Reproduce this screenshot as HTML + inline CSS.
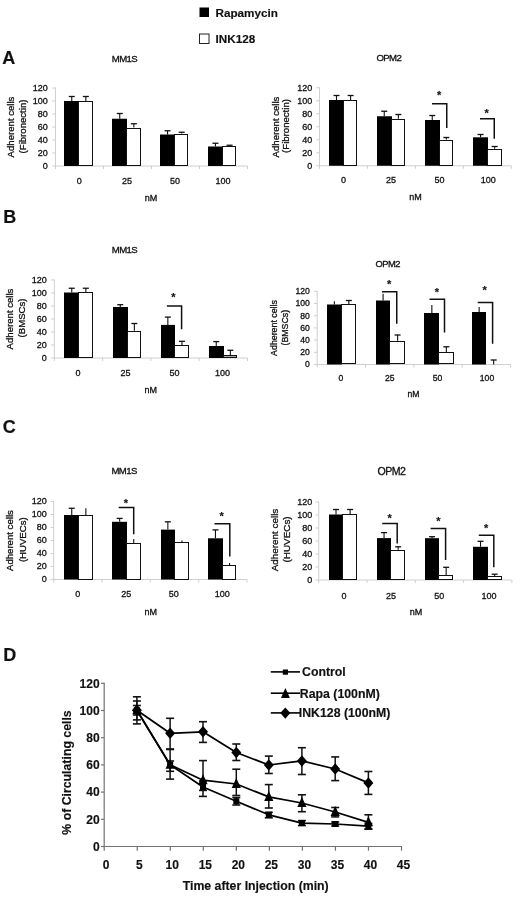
<!DOCTYPE html><html><head><meta charset="utf-8"><style>html,body{margin:0;padding:0;background:#fff;overflow:hidden}svg{display:block;filter:grayscale(1);font-family:"Liberation Sans",sans-serif}</style></head><body>
<svg width="520" height="902" viewBox="0 0 520 902">
<rect width="520" height="902" fill="#fff"/>
<rect x="199.5" y="7.5" width="9.5" height="9.5" fill="#000" stroke="none" stroke-width="0"/>
<text x="215.5" y="16.8" text-anchor="start" font-size="11.7" font-weight="bold" fill="#111"  stroke="#111" stroke-width="0.15">Rapamycin</text>
<rect x="199.5" y="34" width="9.5" height="9.5" fill="#fff" stroke="#222" stroke-width="1"/>
<text x="215.5" y="43.4" text-anchor="start" font-size="11.7" font-weight="bold" fill="#111"  stroke="#111" stroke-width="0.15">INK128</text>
<text x="2.3" y="63.9" text-anchor="start" font-size="18" font-weight="bold" fill="#111"  stroke="#111" stroke-width="0.15">A</text>
<text x="3.3" y="223" text-anchor="start" font-size="18" font-weight="bold" fill="#111"  stroke="#111" stroke-width="0.15">B</text>
<text x="2.8" y="433" text-anchor="start" font-size="18" font-weight="bold" fill="#111"  stroke="#111" stroke-width="0.15">C</text>
<text x="3.3" y="660.5" text-anchor="start" font-size="18" font-weight="bold" fill="#111"  stroke="#111" stroke-width="0.15">D</text>
<line x1="55.5" y1="87.5" x2="55.5" y2="166.5" stroke="#cfcfcf" stroke-width="1"/>
<line x1="52.3" y1="166.0" x2="55.5" y2="166.0" stroke="#cfcfcf" stroke-width="1"/>
<text x="47.8" y="168.97" text-anchor="end" font-size="9" font-weight="normal" fill="#111"  stroke="#111" stroke-width="0.3">0</text>
<line x1="52.3" y1="153.0" x2="55.5" y2="153.0" stroke="#cfcfcf" stroke-width="1"/>
<text x="47.8" y="155.97" text-anchor="end" font-size="9" font-weight="normal" fill="#111"  stroke="#111" stroke-width="0.3">20</text>
<line x1="52.3" y1="140.0" x2="55.5" y2="140.0" stroke="#cfcfcf" stroke-width="1"/>
<text x="47.8" y="142.97" text-anchor="end" font-size="9" font-weight="normal" fill="#111"  stroke="#111" stroke-width="0.3">40</text>
<line x1="52.3" y1="127.0" x2="55.5" y2="127.0" stroke="#cfcfcf" stroke-width="1"/>
<text x="47.8" y="129.97" text-anchor="end" font-size="9" font-weight="normal" fill="#111"  stroke="#111" stroke-width="0.3">60</text>
<line x1="52.3" y1="114.0" x2="55.5" y2="114.0" stroke="#cfcfcf" stroke-width="1"/>
<text x="47.8" y="116.97" text-anchor="end" font-size="9" font-weight="normal" fill="#111"  stroke="#111" stroke-width="0.3">80</text>
<line x1="52.3" y1="101.0" x2="55.5" y2="101.0" stroke="#cfcfcf" stroke-width="1"/>
<text x="47.8" y="103.97" text-anchor="end" font-size="9" font-weight="normal" fill="#111"  stroke="#111" stroke-width="0.3">100</text>
<line x1="52.3" y1="88.0" x2="55.5" y2="88.0" stroke="#cfcfcf" stroke-width="1"/>
<text x="47.8" y="90.97" text-anchor="end" font-size="9" font-weight="normal" fill="#111"  stroke="#111" stroke-width="0.3">120</text>
<line x1="55.5" y1="166" x2="247.5" y2="166" stroke="#cfcfcf" stroke-width="1"/>
<line x1="55.5" y1="166" x2="55.5" y2="169" stroke="#cfcfcf" stroke-width="1"/>
<line x1="103.5" y1="166" x2="103.5" y2="169" stroke="#cfcfcf" stroke-width="1"/>
<line x1="151.5" y1="166" x2="151.5" y2="169" stroke="#cfcfcf" stroke-width="1"/>
<line x1="199.5" y1="166" x2="199.5" y2="169" stroke="#cfcfcf" stroke-width="1"/>
<line x1="247.5" y1="166" x2="247.5" y2="169" stroke="#cfcfcf" stroke-width="1"/>
<rect x="64" y="101" width="15" height="65" fill="#000" stroke="none" stroke-width="0"/>
<rect x="78.5" y="101.5" width="14" height="64" fill="#fff" stroke="#111" stroke-width="1"/>
<line x1="71.75" y1="96.5" x2="71.75" y2="101" stroke="#111" stroke-width="1.1"/>
<line x1="68.75" y1="96.5" x2="74.75" y2="96.5" stroke="#111" stroke-width="1.3"/>
<line x1="85.85" y1="96.5" x2="85.85" y2="101" stroke="#111" stroke-width="1.1"/>
<line x1="82.85" y1="96.5" x2="88.85" y2="96.5" stroke="#111" stroke-width="1.3"/>
<rect x="112" y="118.75" width="15" height="47.25" fill="#000" stroke="none" stroke-width="0"/>
<rect x="126.5" y="128.5" width="14" height="37" fill="#fff" stroke="#111" stroke-width="1"/>
<line x1="119.75" y1="113.5" x2="119.75" y2="118.75" stroke="#111" stroke-width="1.1"/>
<line x1="116.75" y1="113.5" x2="122.75" y2="113.5" stroke="#111" stroke-width="1.3"/>
<line x1="133.85" y1="123.75" x2="133.85" y2="127.5" stroke="#111" stroke-width="1.1"/>
<line x1="130.85" y1="123.75" x2="136.85" y2="123.75" stroke="#111" stroke-width="1.3"/>
<rect x="160" y="134.5" width="15" height="31.5" fill="#000" stroke="none" stroke-width="0"/>
<rect x="174.5" y="134.5" width="13" height="31" fill="#fff" stroke="#111" stroke-width="1"/>
<line x1="167.55" y1="130.75" x2="167.55" y2="134.5" stroke="#111" stroke-width="1.1"/>
<line x1="164.55" y1="130.75" x2="170.55" y2="130.75" stroke="#111" stroke-width="1.3"/>
<line x1="181.65" y1="132.25" x2="181.65" y2="133.5" stroke="#111" stroke-width="1.1"/>
<line x1="178.65" y1="132.25" x2="184.65" y2="132.25" stroke="#111" stroke-width="1.3"/>
<rect x="208" y="146.5" width="15" height="19.5" fill="#000" stroke="none" stroke-width="0"/>
<rect x="222.5" y="146.5" width="13" height="19" fill="#fff" stroke="#111" stroke-width="1"/>
<line x1="215.45" y1="143.25" x2="215.45" y2="146.5" stroke="#111" stroke-width="1.1"/>
<line x1="212.45" y1="143.25" x2="218.45" y2="143.25" stroke="#111" stroke-width="1.3"/>
<line x1="229.54999999999998" y1="145.25" x2="229.54999999999998" y2="146.5" stroke="#111" stroke-width="1.1"/>
<line x1="226.54999999999998" y1="145.25" x2="232.54999999999998" y2="145.25" stroke="#111" stroke-width="1.3"/>
<text x="79.3" y="183.84" text-anchor="middle" font-size="9" font-weight="normal" fill="#111"  stroke="#111" stroke-width="0.3">0</text>
<text x="127" y="183.84" text-anchor="middle" font-size="9" font-weight="normal" fill="#111"  stroke="#111" stroke-width="0.3">25</text>
<text x="175" y="183.84" text-anchor="middle" font-size="9" font-weight="normal" fill="#111"  stroke="#111" stroke-width="0.3">50</text>
<text x="223" y="183.84" text-anchor="middle" font-size="9" font-weight="normal" fill="#111"  stroke="#111" stroke-width="0.3">100</text>
<text x="151" y="201.04000000000002" text-anchor="middle" font-size="9" font-weight="normal" fill="#111"  stroke="#111" stroke-width="0.3">nM</text>
<text x="124.5" y="61.6" text-anchor="middle" font-size="9.6" font-weight="normal" fill="#111" letter-spacing="-0.6" stroke="#111" stroke-width="0.3">MM1S</text>
<text transform="translate(14.3,127) rotate(-90)" text-anchor="middle" font-size="9.6" font-weight="normal" fill="#111"  stroke="#111" stroke-width="0.3">Adherent cells</text>
<text transform="translate(25.8,126.5) rotate(-90)" text-anchor="middle" font-size="9.6" font-weight="normal" fill="#111"  stroke="#111" stroke-width="0.3">(Fibronectin)</text>
<line x1="319.5" y1="87.25" x2="319.5" y2="166.25" stroke="#cfcfcf" stroke-width="1"/>
<line x1="316.3" y1="165.75" x2="319.5" y2="165.75" stroke="#cfcfcf" stroke-width="1"/>
<text x="312.3" y="168.72" text-anchor="end" font-size="9" font-weight="normal" fill="#111"  stroke="#111" stroke-width="0.3">0</text>
<line x1="316.3" y1="152.75" x2="319.5" y2="152.75" stroke="#cfcfcf" stroke-width="1"/>
<text x="312.3" y="155.72" text-anchor="end" font-size="9" font-weight="normal" fill="#111"  stroke="#111" stroke-width="0.3">20</text>
<line x1="316.3" y1="139.75" x2="319.5" y2="139.75" stroke="#cfcfcf" stroke-width="1"/>
<text x="312.3" y="142.72" text-anchor="end" font-size="9" font-weight="normal" fill="#111"  stroke="#111" stroke-width="0.3">40</text>
<line x1="316.3" y1="126.75" x2="319.5" y2="126.75" stroke="#cfcfcf" stroke-width="1"/>
<text x="312.3" y="129.72" text-anchor="end" font-size="9" font-weight="normal" fill="#111"  stroke="#111" stroke-width="0.3">60</text>
<line x1="316.3" y1="113.75" x2="319.5" y2="113.75" stroke="#cfcfcf" stroke-width="1"/>
<text x="312.3" y="116.72" text-anchor="end" font-size="9" font-weight="normal" fill="#111"  stroke="#111" stroke-width="0.3">80</text>
<line x1="316.3" y1="100.75" x2="319.5" y2="100.75" stroke="#cfcfcf" stroke-width="1"/>
<text x="312.3" y="103.72" text-anchor="end" font-size="9" font-weight="normal" fill="#111"  stroke="#111" stroke-width="0.3">100</text>
<line x1="316.3" y1="87.75" x2="319.5" y2="87.75" stroke="#cfcfcf" stroke-width="1"/>
<text x="312.3" y="90.72" text-anchor="end" font-size="9" font-weight="normal" fill="#111"  stroke="#111" stroke-width="0.3">120</text>
<line x1="319.5" y1="165.75" x2="511.3" y2="165.75" stroke="#cfcfcf" stroke-width="1"/>
<line x1="319.5" y1="165.75" x2="319.5" y2="168.75" stroke="#cfcfcf" stroke-width="1"/>
<line x1="367.45" y1="165.75" x2="367.45" y2="168.75" stroke="#cfcfcf" stroke-width="1"/>
<line x1="415.4" y1="165.75" x2="415.4" y2="168.75" stroke="#cfcfcf" stroke-width="1"/>
<line x1="463.35" y1="165.75" x2="463.35" y2="168.75" stroke="#cfcfcf" stroke-width="1"/>
<line x1="511.3" y1="165.75" x2="511.3" y2="168.75" stroke="#cfcfcf" stroke-width="1"/>
<rect x="329" y="100" width="15" height="65.75" fill="#000" stroke="none" stroke-width="0"/>
<rect x="343.5" y="100.5" width="13" height="65" fill="#fff" stroke="#111" stroke-width="1"/>
<line x1="336.5" y1="95.5" x2="336.5" y2="100" stroke="#111" stroke-width="1.1"/>
<line x1="333.5" y1="95.5" x2="339.5" y2="95.5" stroke="#111" stroke-width="1.3"/>
<line x1="350.6" y1="95.5" x2="350.6" y2="100" stroke="#111" stroke-width="1.1"/>
<line x1="347.6" y1="95.5" x2="353.6" y2="95.5" stroke="#111" stroke-width="1.3"/>
<rect x="377" y="116.25" width="15" height="49.5" fill="#000" stroke="none" stroke-width="0"/>
<rect x="391.5" y="119.5" width="13" height="46" fill="#fff" stroke="#111" stroke-width="1"/>
<line x1="384.25" y1="111.25" x2="384.25" y2="116.25" stroke="#111" stroke-width="1.1"/>
<line x1="381.25" y1="111.25" x2="387.25" y2="111.25" stroke="#111" stroke-width="1.3"/>
<line x1="398.35" y1="114.5" x2="398.35" y2="118.75" stroke="#111" stroke-width="1.1"/>
<line x1="395.35" y1="114.5" x2="401.35" y2="114.5" stroke="#111" stroke-width="1.3"/>
<rect x="425" y="120" width="15" height="45.75" fill="#000" stroke="none" stroke-width="0"/>
<rect x="439.5" y="140.5" width="13" height="25" fill="#fff" stroke="#111" stroke-width="1"/>
<line x1="432.25" y1="115.5" x2="432.25" y2="120" stroke="#111" stroke-width="1.1"/>
<line x1="429.25" y1="115.5" x2="435.25" y2="115.5" stroke="#111" stroke-width="1.3"/>
<line x1="446.35" y1="137.5" x2="446.35" y2="139.5" stroke="#111" stroke-width="1.1"/>
<line x1="443.35" y1="137.5" x2="449.35" y2="137.5" stroke="#111" stroke-width="1.3"/>
<polyline points="432,103.75 446.75,103.75 446.75,128" fill="none" stroke="#111" stroke-width="1.5"/>
<text x="439.25" y="99.25" text-anchor="middle" font-size="11" font-weight="bold" fill="#111"  stroke="#111" stroke-width="0.15">*</text>
<rect x="473" y="137.3" width="15" height="28.44999999999999" fill="#000" stroke="none" stroke-width="0"/>
<rect x="487.5" y="149.5" width="14" height="16" fill="#fff" stroke="#111" stroke-width="1"/>
<line x1="480.55" y1="134.5" x2="480.55" y2="137.3" stroke="#111" stroke-width="1.1"/>
<line x1="477.55" y1="134.5" x2="483.55" y2="134.5" stroke="#111" stroke-width="1.3"/>
<line x1="494.65000000000003" y1="146.5" x2="494.65000000000003" y2="148.7" stroke="#111" stroke-width="1.1"/>
<line x1="491.65000000000003" y1="146.5" x2="497.65000000000003" y2="146.5" stroke="#111" stroke-width="1.3"/>
<polyline points="480,118.75 494.25,118.75 494.25,138.75" fill="none" stroke="#111" stroke-width="1.5"/>
<text x="486.75" y="116.75" text-anchor="middle" font-size="11" font-weight="bold" fill="#111"  stroke="#111" stroke-width="0.15">*</text>
<text x="343.6" y="183.04000000000002" text-anchor="middle" font-size="9" font-weight="normal" fill="#111"  stroke="#111" stroke-width="0.3">0</text>
<text x="391" y="183.04000000000002" text-anchor="middle" font-size="9" font-weight="normal" fill="#111"  stroke="#111" stroke-width="0.3">25</text>
<text x="439.6" y="183.04000000000002" text-anchor="middle" font-size="9" font-weight="normal" fill="#111"  stroke="#111" stroke-width="0.3">50</text>
<text x="488.2" y="183.04000000000002" text-anchor="middle" font-size="9" font-weight="normal" fill="#111"  stroke="#111" stroke-width="0.3">100</text>
<text x="415.5" y="199.94" text-anchor="middle" font-size="9" font-weight="normal" fill="#111"  stroke="#111" stroke-width="0.3">nM</text>
<text x="388.8" y="61.0" text-anchor="middle" font-size="9.6" font-weight="normal" fill="#111" letter-spacing="-0.6" stroke="#111" stroke-width="0.3">OPM2</text>
<text transform="translate(278.6,127) rotate(-90)" text-anchor="middle" font-size="9.6" font-weight="normal" fill="#111"  stroke="#111" stroke-width="0.3">Adherent cells</text>
<text transform="translate(288.6,126) rotate(-90)" text-anchor="middle" font-size="9.6" font-weight="normal" fill="#111"  stroke="#111" stroke-width="0.3">(Fibronectin)</text>
<line x1="54.3" y1="279.5" x2="54.3" y2="358.5" stroke="#cfcfcf" stroke-width="1"/>
<line x1="51.099999999999994" y1="358.0" x2="54.3" y2="358.0" stroke="#cfcfcf" stroke-width="1"/>
<text x="46.8" y="360.97" text-anchor="end" font-size="9" font-weight="normal" fill="#111"  stroke="#111" stroke-width="0.3">0</text>
<line x1="51.099999999999994" y1="345.0" x2="54.3" y2="345.0" stroke="#cfcfcf" stroke-width="1"/>
<text x="46.8" y="347.97" text-anchor="end" font-size="9" font-weight="normal" fill="#111"  stroke="#111" stroke-width="0.3">20</text>
<line x1="51.099999999999994" y1="332.0" x2="54.3" y2="332.0" stroke="#cfcfcf" stroke-width="1"/>
<text x="46.8" y="334.97" text-anchor="end" font-size="9" font-weight="normal" fill="#111"  stroke="#111" stroke-width="0.3">40</text>
<line x1="51.099999999999994" y1="319.0" x2="54.3" y2="319.0" stroke="#cfcfcf" stroke-width="1"/>
<text x="46.8" y="321.97" text-anchor="end" font-size="9" font-weight="normal" fill="#111"  stroke="#111" stroke-width="0.3">60</text>
<line x1="51.099999999999994" y1="306.0" x2="54.3" y2="306.0" stroke="#cfcfcf" stroke-width="1"/>
<text x="46.8" y="308.97" text-anchor="end" font-size="9" font-weight="normal" fill="#111"  stroke="#111" stroke-width="0.3">80</text>
<line x1="51.099999999999994" y1="293.0" x2="54.3" y2="293.0" stroke="#cfcfcf" stroke-width="1"/>
<text x="46.8" y="295.97" text-anchor="end" font-size="9" font-weight="normal" fill="#111"  stroke="#111" stroke-width="0.3">100</text>
<line x1="51.099999999999994" y1="280.0" x2="54.3" y2="280.0" stroke="#cfcfcf" stroke-width="1"/>
<text x="46.8" y="282.97" text-anchor="end" font-size="9" font-weight="normal" fill="#111"  stroke="#111" stroke-width="0.3">120</text>
<line x1="54.3" y1="358" x2="247.5" y2="358" stroke="#cfcfcf" stroke-width="1"/>
<line x1="54.3" y1="358" x2="54.3" y2="361" stroke="#cfcfcf" stroke-width="1"/>
<line x1="102.6" y1="358" x2="102.6" y2="361" stroke="#cfcfcf" stroke-width="1"/>
<line x1="150.89999999999998" y1="358" x2="150.89999999999998" y2="361" stroke="#cfcfcf" stroke-width="1"/>
<line x1="199.2" y1="358" x2="199.2" y2="361" stroke="#cfcfcf" stroke-width="1"/>
<line x1="247.5" y1="358" x2="247.5" y2="361" stroke="#cfcfcf" stroke-width="1"/>
<rect x="64" y="292.5" width="15" height="65.5" fill="#000" stroke="none" stroke-width="0"/>
<rect x="78.5" y="292.5" width="14" height="65" fill="#fff" stroke="#111" stroke-width="1"/>
<line x1="71.75" y1="288.25" x2="71.75" y2="292.5" stroke="#111" stroke-width="1.1"/>
<line x1="68.75" y1="288.25" x2="74.75" y2="288.25" stroke="#111" stroke-width="1.3"/>
<line x1="85.85" y1="288.25" x2="85.85" y2="292.5" stroke="#111" stroke-width="1.1"/>
<line x1="82.85" y1="288.25" x2="88.85" y2="288.25" stroke="#111" stroke-width="1.3"/>
<rect x="113" y="307" width="15" height="51" fill="#000" stroke="none" stroke-width="0"/>
<rect x="127.5" y="331.5" width="13" height="26" fill="#fff" stroke="#111" stroke-width="1"/>
<line x1="120.25" y1="304.7" x2="120.25" y2="307" stroke="#111" stroke-width="1.1"/>
<line x1="117.25" y1="304.7" x2="123.25" y2="304.7" stroke="#111" stroke-width="1.3"/>
<line x1="134.35" y1="323.5" x2="134.35" y2="330.7" stroke="#111" stroke-width="1.1"/>
<line x1="131.35" y1="323.5" x2="137.35" y2="323.5" stroke="#111" stroke-width="1.3"/>
<rect x="161" y="324.9" width="14" height="33.10000000000002" fill="#000" stroke="none" stroke-width="0"/>
<rect x="174.5" y="345.5" width="14" height="12" fill="#fff" stroke="#111" stroke-width="1"/>
<line x1="167.85" y1="317.1" x2="167.85" y2="324.9" stroke="#111" stroke-width="1.1"/>
<line x1="164.85" y1="317.1" x2="170.85" y2="317.1" stroke="#111" stroke-width="1.3"/>
<line x1="181.95" y1="341.3" x2="181.95" y2="345.4" stroke="#111" stroke-width="1.1"/>
<line x1="178.95" y1="341.3" x2="184.95" y2="341.3" stroke="#111" stroke-width="1.3"/>
<polyline points="166.9,306.1 181.6,306.1 181.6,329.2" fill="none" stroke="#111" stroke-width="1.5"/>
<text x="173.5" y="301.0" text-anchor="middle" font-size="11" font-weight="bold" fill="#111"  stroke="#111" stroke-width="0.15">*</text>
<rect x="209" y="346" width="15" height="12" fill="#000" stroke="none" stroke-width="0"/>
<rect x="223.5" y="355.5" width="13" height="2" fill="#aaa" stroke="#111" stroke-width="1"/>
<line x1="216.25" y1="341.6" x2="216.25" y2="346" stroke="#111" stroke-width="1.1"/>
<line x1="213.25" y1="341.6" x2="219.25" y2="341.6" stroke="#111" stroke-width="1.3"/>
<line x1="230.35" y1="350.3" x2="230.35" y2="355.2" stroke="#111" stroke-width="1.1"/>
<line x1="227.35" y1="350.3" x2="233.35" y2="350.3" stroke="#111" stroke-width="1.3"/>
<text x="78" y="376.04" text-anchor="middle" font-size="9" font-weight="normal" fill="#111"  stroke="#111" stroke-width="0.3">0</text>
<text x="125.4" y="376.04" text-anchor="middle" font-size="9" font-weight="normal" fill="#111"  stroke="#111" stroke-width="0.3">25</text>
<text x="174.4" y="376.04" text-anchor="middle" font-size="9" font-weight="normal" fill="#111"  stroke="#111" stroke-width="0.3">50</text>
<text x="222.6" y="376.04" text-anchor="middle" font-size="9" font-weight="normal" fill="#111"  stroke="#111" stroke-width="0.3">100</text>
<text x="150.8" y="392.84000000000003" text-anchor="middle" font-size="9" font-weight="normal" fill="#111"  stroke="#111" stroke-width="0.3">nM</text>
<text x="124.5" y="252.5" text-anchor="middle" font-size="9.6" font-weight="normal" fill="#111" letter-spacing="-0.6" stroke="#111" stroke-width="0.3">MM1S</text>
<text transform="translate(13,319) rotate(-90)" text-anchor="middle" font-size="9.6" font-weight="normal" fill="#111"  stroke="#111" stroke-width="0.3">Adherent cells</text>
<text transform="translate(25.3,318) rotate(-90)" text-anchor="middle" font-size="9.6" font-weight="normal" fill="#111"  stroke="#111" stroke-width="0.3">(BMSCs)</text>
<line x1="317.2" y1="290.8" x2="317.2" y2="365.0" stroke="#cfcfcf" stroke-width="1"/>
<line x1="314.0" y1="364.5" x2="317.2" y2="364.5" stroke="#cfcfcf" stroke-width="1"/>
<text x="309.8" y="367.338" text-anchor="end" font-size="8.6" font-weight="normal" fill="#111"  stroke="#111" stroke-width="0.3">0</text>
<line x1="314.0" y1="352.3" x2="317.2" y2="352.3" stroke="#cfcfcf" stroke-width="1"/>
<text x="309.8" y="355.13800000000003" text-anchor="end" font-size="8.6" font-weight="normal" fill="#111"  stroke="#111" stroke-width="0.3">20</text>
<line x1="314.0" y1="340.1" x2="317.2" y2="340.1" stroke="#cfcfcf" stroke-width="1"/>
<text x="309.8" y="342.93800000000005" text-anchor="end" font-size="8.6" font-weight="normal" fill="#111"  stroke="#111" stroke-width="0.3">40</text>
<line x1="314.0" y1="327.9" x2="317.2" y2="327.9" stroke="#cfcfcf" stroke-width="1"/>
<text x="309.8" y="330.738" text-anchor="end" font-size="8.6" font-weight="normal" fill="#111"  stroke="#111" stroke-width="0.3">60</text>
<line x1="314.0" y1="315.7" x2="317.2" y2="315.7" stroke="#cfcfcf" stroke-width="1"/>
<text x="309.8" y="318.538" text-anchor="end" font-size="8.6" font-weight="normal" fill="#111"  stroke="#111" stroke-width="0.3">80</text>
<line x1="314.0" y1="303.5" x2="317.2" y2="303.5" stroke="#cfcfcf" stroke-width="1"/>
<text x="309.8" y="306.338" text-anchor="end" font-size="8.6" font-weight="normal" fill="#111"  stroke="#111" stroke-width="0.3">100</text>
<line x1="314.0" y1="291.3" x2="317.2" y2="291.3" stroke="#cfcfcf" stroke-width="1"/>
<text x="309.8" y="294.13800000000003" text-anchor="end" font-size="8.6" font-weight="normal" fill="#111"  stroke="#111" stroke-width="0.3">120</text>
<line x1="317.2" y1="364.5" x2="510.5" y2="364.5" stroke="#cfcfcf" stroke-width="1"/>
<line x1="317.2" y1="364.5" x2="317.2" y2="367.5" stroke="#cfcfcf" stroke-width="1"/>
<line x1="365.525" y1="364.5" x2="365.525" y2="367.5" stroke="#cfcfcf" stroke-width="1"/>
<line x1="413.85" y1="364.5" x2="413.85" y2="367.5" stroke="#cfcfcf" stroke-width="1"/>
<line x1="462.175" y1="364.5" x2="462.175" y2="367.5" stroke="#cfcfcf" stroke-width="1"/>
<line x1="510.5" y1="364.5" x2="510.5" y2="367.5" stroke="#cfcfcf" stroke-width="1"/>
<rect x="327" y="304.5" width="15" height="60.0" fill="#000" stroke="none" stroke-width="0"/>
<rect x="341.5" y="304.5" width="14" height="59" fill="#fff" stroke="#111" stroke-width="1"/>
<line x1="334.35" y1="301.25" x2="334.35" y2="304.5" stroke="#111" stroke-width="1.1"/>
<line x1="348.84999999999997" y1="300.5" x2="348.84999999999997" y2="304.5" stroke="#111" stroke-width="1.1"/>
<line x1="345.84999999999997" y1="300.5" x2="351.84999999999997" y2="300.5" stroke="#111" stroke-width="1.3"/>
<rect x="376" y="300.5" width="14" height="64.0" fill="#000" stroke="none" stroke-width="0"/>
<rect x="389.5" y="341.5" width="15" height="22" fill="#fff" stroke="#111" stroke-width="1"/>
<line x1="383.1" y1="293.75" x2="383.1" y2="300.5" stroke="#111" stroke-width="1.1"/>
<line x1="397.59999999999997" y1="335" x2="397.59999999999997" y2="340.75" stroke="#111" stroke-width="1.1"/>
<line x1="394.59999999999997" y1="335" x2="400.59999999999997" y2="335" stroke="#111" stroke-width="1.3"/>
<polyline points="382,291.75 396.75,291.75 396.75,323.75" fill="none" stroke="#111" stroke-width="1.5"/>
<text x="389.25" y="287.5" text-anchor="middle" font-size="11" font-weight="bold" fill="#111"  stroke="#111" stroke-width="0.15">*</text>
<rect x="424" y="313" width="15" height="51.5" fill="#000" stroke="none" stroke-width="0"/>
<rect x="438.5" y="352.5" width="15" height="11" fill="#fff" stroke="#111" stroke-width="1"/>
<line x1="431.85" y1="305" x2="431.85" y2="313" stroke="#111" stroke-width="1.1"/>
<line x1="446.34999999999997" y1="346.75" x2="446.34999999999997" y2="352" stroke="#111" stroke-width="1.1"/>
<line x1="443.34999999999997" y1="346.75" x2="449.34999999999997" y2="346.75" stroke="#111" stroke-width="1.3"/>
<polyline points="429.5,299.25 444.5,299.25 444.5,332.5" fill="none" stroke="#111" stroke-width="1.5"/>
<text x="437" y="296.0" text-anchor="middle" font-size="11" font-weight="bold" fill="#111"  stroke="#111" stroke-width="0.15">*</text>
<rect x="472" y="312" width="14" height="52.5" fill="#000" stroke="none" stroke-width="0"/>
<line x1="479.15000000000003" y1="306.9" x2="479.15000000000003" y2="312" stroke="#111" stroke-width="1.1"/>
<line x1="493.65" y1="360" x2="493.65" y2="364.5" stroke="#111" stroke-width="1.1"/>
<line x1="490.65" y1="360" x2="496.65" y2="360" stroke="#111" stroke-width="1.3"/>
<polyline points="477.7,302.6 492.6,302.6 492.6,343.8" fill="none" stroke="#111" stroke-width="1.5"/>
<text x="484.6" y="294.0" text-anchor="middle" font-size="11" font-weight="bold" fill="#111"  stroke="#111" stroke-width="0.15">*</text>
<text x="341" y="381.296" text-anchor="middle" font-size="8.6" font-weight="normal" fill="#111"  stroke="#111" stroke-width="0.3">0</text>
<text x="389.7" y="381.296" text-anchor="middle" font-size="8.6" font-weight="normal" fill="#111"  stroke="#111" stroke-width="0.3">25</text>
<text x="437.5" y="381.296" text-anchor="middle" font-size="8.6" font-weight="normal" fill="#111"  stroke="#111" stroke-width="0.3">50</text>
<text x="487" y="381.296" text-anchor="middle" font-size="8.6" font-weight="normal" fill="#111"  stroke="#111" stroke-width="0.3">100</text>
<text x="413.4" y="396.696" text-anchor="middle" font-size="8.6" font-weight="normal" fill="#111"  stroke="#111" stroke-width="0.3">nM</text>
<text x="387.7" y="267" text-anchor="middle" font-size="9.4" font-weight="normal" fill="#111" letter-spacing="-0.6" stroke="#111" stroke-width="0.3">OPM2</text>
<text transform="translate(276.6,328) rotate(-90)" text-anchor="middle" font-size="8.8" font-weight="normal" fill="#111"  stroke="#111" stroke-width="0.3">Adherent cells</text>
<text transform="translate(287.5,327.7) rotate(-90)" text-anchor="middle" font-size="8.8" font-weight="normal" fill="#111"  stroke="#111" stroke-width="0.3">(BMSCs)</text>
<line x1="53.7" y1="501.0" x2="53.7" y2="580.0" stroke="#cfcfcf" stroke-width="1"/>
<line x1="50.5" y1="579.5" x2="53.7" y2="579.5" stroke="#cfcfcf" stroke-width="1"/>
<text x="46.8" y="582.47" text-anchor="end" font-size="9" font-weight="normal" fill="#111"  stroke="#111" stroke-width="0.3">0</text>
<line x1="50.5" y1="566.5" x2="53.7" y2="566.5" stroke="#cfcfcf" stroke-width="1"/>
<text x="46.8" y="569.47" text-anchor="end" font-size="9" font-weight="normal" fill="#111"  stroke="#111" stroke-width="0.3">20</text>
<line x1="50.5" y1="553.5" x2="53.7" y2="553.5" stroke="#cfcfcf" stroke-width="1"/>
<text x="46.8" y="556.47" text-anchor="end" font-size="9" font-weight="normal" fill="#111"  stroke="#111" stroke-width="0.3">40</text>
<line x1="50.5" y1="540.5" x2="53.7" y2="540.5" stroke="#cfcfcf" stroke-width="1"/>
<text x="46.8" y="543.47" text-anchor="end" font-size="9" font-weight="normal" fill="#111"  stroke="#111" stroke-width="0.3">60</text>
<line x1="50.5" y1="527.5" x2="53.7" y2="527.5" stroke="#cfcfcf" stroke-width="1"/>
<text x="46.8" y="530.47" text-anchor="end" font-size="9" font-weight="normal" fill="#111"  stroke="#111" stroke-width="0.3">80</text>
<line x1="50.5" y1="514.5" x2="53.7" y2="514.5" stroke="#cfcfcf" stroke-width="1"/>
<text x="46.8" y="517.47" text-anchor="end" font-size="9" font-weight="normal" fill="#111"  stroke="#111" stroke-width="0.3">100</text>
<line x1="50.5" y1="501.5" x2="53.7" y2="501.5" stroke="#cfcfcf" stroke-width="1"/>
<text x="46.8" y="504.47" text-anchor="end" font-size="9" font-weight="normal" fill="#111"  stroke="#111" stroke-width="0.3">120</text>
<line x1="53.7" y1="579.5" x2="247" y2="579.5" stroke="#cfcfcf" stroke-width="1"/>
<line x1="53.7" y1="579.5" x2="53.7" y2="582.5" stroke="#cfcfcf" stroke-width="1"/>
<line x1="102.025" y1="579.5" x2="102.025" y2="582.5" stroke="#cfcfcf" stroke-width="1"/>
<line x1="150.35000000000002" y1="579.5" x2="150.35000000000002" y2="582.5" stroke="#cfcfcf" stroke-width="1"/>
<line x1="198.675" y1="579.5" x2="198.675" y2="582.5" stroke="#cfcfcf" stroke-width="1"/>
<line x1="247.0" y1="579.5" x2="247.0" y2="582.5" stroke="#cfcfcf" stroke-width="1"/>
<rect x="64" y="515" width="15" height="64.5" fill="#000" stroke="none" stroke-width="0"/>
<rect x="78.5" y="515.5" width="14" height="64" fill="#fff" stroke="#111" stroke-width="1"/>
<line x1="71.75" y1="508.25" x2="71.75" y2="515" stroke="#111" stroke-width="1.1"/>
<line x1="68.75" y1="508.25" x2="74.75" y2="508.25" stroke="#111" stroke-width="1.3"/>
<line x1="85.85" y1="508.25" x2="85.85" y2="515" stroke="#111" stroke-width="1.1"/>
<rect x="112" y="521.8" width="15" height="57.700000000000045" fill="#000" stroke="none" stroke-width="0"/>
<rect x="126.5" y="543.5" width="14" height="36" fill="#fff" stroke="#111" stroke-width="1"/>
<line x1="119.65" y1="518.4" x2="119.65" y2="521.8" stroke="#111" stroke-width="1.1"/>
<line x1="116.65" y1="518.4" x2="122.65" y2="518.4" stroke="#111" stroke-width="1.3"/>
<line x1="133.75" y1="539.1" x2="133.75" y2="542.9" stroke="#111" stroke-width="1.1"/>
<polyline points="118.7,507.4 133.7,507.4 133.7,534.2" fill="none" stroke="#111" stroke-width="1.5"/>
<text x="126" y="507.1" text-anchor="middle" font-size="11" font-weight="bold" fill="#111"  stroke="#111" stroke-width="0.15">*</text>
<rect x="161" y="529.6" width="14" height="49.89999999999998" fill="#000" stroke="none" stroke-width="0"/>
<rect x="174.5" y="542.5" width="14" height="37" fill="#fff" stroke="#111" stroke-width="1"/>
<line x1="167.85" y1="521.8" x2="167.85" y2="529.6" stroke="#111" stroke-width="1.1"/>
<line x1="164.85" y1="521.8" x2="170.85" y2="521.8" stroke="#111" stroke-width="1.3"/>
<line x1="181.95" y1="540.6" x2="181.95" y2="542" stroke="#111" stroke-width="1.1"/>
<rect x="208" y="538.3" width="15" height="41.200000000000045" fill="#000" stroke="none" stroke-width="0"/>
<rect x="222.5" y="565.5" width="13" height="14" fill="#fff" stroke="#111" stroke-width="1"/>
<line x1="215.45" y1="529.9" x2="215.45" y2="538.3" stroke="#111" stroke-width="1.1"/>
<line x1="212.45" y1="529.9" x2="218.45" y2="529.9" stroke="#111" stroke-width="1.3"/>
<line x1="229.54999999999998" y1="563" x2="229.54999999999998" y2="565.4" stroke="#111" stroke-width="1.1"/>
<polyline points="214.5,523.8 229.8,523.8 229.8,556.4" fill="none" stroke="#111" stroke-width="1.5"/>
<text x="221.7" y="519.5" text-anchor="middle" font-size="11" font-weight="bold" fill="#111"  stroke="#111" stroke-width="0.15">*</text>
<text x="77.7" y="596.74" text-anchor="middle" font-size="9" font-weight="normal" fill="#111"  stroke="#111" stroke-width="0.3">0</text>
<text x="126.2" y="596.74" text-anchor="middle" font-size="9" font-weight="normal" fill="#111"  stroke="#111" stroke-width="0.3">25</text>
<text x="173.8" y="596.74" text-anchor="middle" font-size="9" font-weight="normal" fill="#111"  stroke="#111" stroke-width="0.3">50</text>
<text x="222.3" y="596.74" text-anchor="middle" font-size="9" font-weight="normal" fill="#111"  stroke="#111" stroke-width="0.3">100</text>
<text x="150.8" y="614.74" text-anchor="middle" font-size="9" font-weight="normal" fill="#111"  stroke="#111" stroke-width="0.3">nM</text>
<text x="124.1" y="473.7" text-anchor="middle" font-size="9.6" font-weight="normal" fill="#111" letter-spacing="-0.6" stroke="#111" stroke-width="0.3">MM1S</text>
<text transform="translate(12.9,540.6) rotate(-90)" text-anchor="middle" font-size="9.6" font-weight="normal" fill="#111"  stroke="#111" stroke-width="0.3">Adherent cells</text>
<text transform="translate(25.5,539.7) rotate(-90)" text-anchor="middle" font-size="9.6" font-weight="normal" fill="#111"  stroke="#111" stroke-width="0.3">(HUVECs)</text>
<line x1="318.75" y1="501.5" x2="318.75" y2="580.5" stroke="#cfcfcf" stroke-width="1"/>
<line x1="315.55" y1="580.0" x2="318.75" y2="580.0" stroke="#cfcfcf" stroke-width="1"/>
<text x="312.3" y="582.97" text-anchor="end" font-size="9" font-weight="normal" fill="#111"  stroke="#111" stroke-width="0.3">0</text>
<line x1="315.55" y1="567.0" x2="318.75" y2="567.0" stroke="#cfcfcf" stroke-width="1"/>
<text x="312.3" y="569.97" text-anchor="end" font-size="9" font-weight="normal" fill="#111"  stroke="#111" stroke-width="0.3">20</text>
<line x1="315.55" y1="554.0" x2="318.75" y2="554.0" stroke="#cfcfcf" stroke-width="1"/>
<text x="312.3" y="556.97" text-anchor="end" font-size="9" font-weight="normal" fill="#111"  stroke="#111" stroke-width="0.3">40</text>
<line x1="315.55" y1="541.0" x2="318.75" y2="541.0" stroke="#cfcfcf" stroke-width="1"/>
<text x="312.3" y="543.97" text-anchor="end" font-size="9" font-weight="normal" fill="#111"  stroke="#111" stroke-width="0.3">60</text>
<line x1="315.55" y1="528.0" x2="318.75" y2="528.0" stroke="#cfcfcf" stroke-width="1"/>
<text x="312.3" y="530.97" text-anchor="end" font-size="9" font-weight="normal" fill="#111"  stroke="#111" stroke-width="0.3">80</text>
<line x1="315.55" y1="515.0" x2="318.75" y2="515.0" stroke="#cfcfcf" stroke-width="1"/>
<text x="312.3" y="517.97" text-anchor="end" font-size="9" font-weight="normal" fill="#111"  stroke="#111" stroke-width="0.3">100</text>
<line x1="315.55" y1="502.0" x2="318.75" y2="502.0" stroke="#cfcfcf" stroke-width="1"/>
<text x="312.3" y="504.97" text-anchor="end" font-size="9" font-weight="normal" fill="#111"  stroke="#111" stroke-width="0.3">120</text>
<line x1="318.75" y1="580" x2="511.9" y2="580" stroke="#cfcfcf" stroke-width="1"/>
<line x1="318.75" y1="580" x2="318.75" y2="583" stroke="#cfcfcf" stroke-width="1"/>
<line x1="367.0375" y1="580" x2="367.0375" y2="583" stroke="#cfcfcf" stroke-width="1"/>
<line x1="415.325" y1="580" x2="415.325" y2="583" stroke="#cfcfcf" stroke-width="1"/>
<line x1="463.61249999999995" y1="580" x2="463.61249999999995" y2="583" stroke="#cfcfcf" stroke-width="1"/>
<line x1="511.9" y1="580" x2="511.9" y2="583" stroke="#cfcfcf" stroke-width="1"/>
<rect x="329" y="514.5" width="14" height="65.5" fill="#000" stroke="none" stroke-width="0"/>
<rect x="342.5" y="514.5" width="14" height="65" fill="#fff" stroke="#111" stroke-width="1"/>
<line x1="336.0" y1="509.5" x2="336.0" y2="514.5" stroke="#111" stroke-width="1.1"/>
<line x1="333.0" y1="509.5" x2="339.0" y2="509.5" stroke="#111" stroke-width="1.3"/>
<line x1="350.1" y1="509.5" x2="350.1" y2="514.5" stroke="#111" stroke-width="1.1"/>
<line x1="347.1" y1="509.5" x2="353.1" y2="509.5" stroke="#111" stroke-width="1.3"/>
<rect x="377" y="538.1" width="14" height="41.89999999999998" fill="#000" stroke="none" stroke-width="0"/>
<rect x="390.5" y="550.5" width="14" height="29" fill="#fff" stroke="#111" stroke-width="1"/>
<line x1="384.05" y1="532.6" x2="384.05" y2="538.1" stroke="#111" stroke-width="1.1"/>
<line x1="381.05" y1="532.6" x2="387.05" y2="532.6" stroke="#111" stroke-width="1.3"/>
<line x1="398.15000000000003" y1="546.8" x2="398.15000000000003" y2="549.7" stroke="#111" stroke-width="1.1"/>
<line x1="395.15000000000003" y1="546.8" x2="401.15000000000003" y2="546.8" stroke="#111" stroke-width="1.3"/>
<polyline points="382.2,523.5 397.2,523.5 397.2,543.4" fill="none" stroke="#111" stroke-width="1.5"/>
<text x="389.6" y="522.0" text-anchor="middle" font-size="11" font-weight="bold" fill="#111"  stroke="#111" stroke-width="0.15">*</text>
<rect x="425" y="538.2" width="14" height="41.799999999999955" fill="#000" stroke="none" stroke-width="0"/>
<rect x="438.5" y="575.5" width="14" height="4" fill="#fff" stroke="#111" stroke-width="1"/>
<line x1="432.05" y1="536.7" x2="432.05" y2="538.2" stroke="#111" stroke-width="1.1"/>
<line x1="429.05" y1="536.7" x2="435.05" y2="536.7" stroke="#111" stroke-width="1.3"/>
<line x1="446.15000000000003" y1="567.3" x2="446.15000000000003" y2="575.4" stroke="#111" stroke-width="1.1"/>
<line x1="443.15000000000003" y1="567.3" x2="449.15000000000003" y2="567.3" stroke="#111" stroke-width="1.3"/>
<polyline points="430.6,528.4 445.6,528.4 445.6,560.1" fill="none" stroke="#111" stroke-width="1.5"/>
<text x="438.4" y="524.9" text-anchor="middle" font-size="11" font-weight="bold" fill="#111"  stroke="#111" stroke-width="0.15">*</text>
<rect x="473" y="546.8" width="15" height="33.200000000000045" fill="#000" stroke="none" stroke-width="0"/>
<rect x="487.5" y="576.5" width="14" height="3" fill="#fff" stroke="#111" stroke-width="1"/>
<line x1="480.55" y1="541.3" x2="480.55" y2="546.8" stroke="#111" stroke-width="1.1"/>
<line x1="477.55" y1="541.3" x2="483.55" y2="541.3" stroke="#111" stroke-width="1.3"/>
<line x1="494.65000000000003" y1="574.2" x2="494.65000000000003" y2="576.5" stroke="#111" stroke-width="1.1"/>
<line x1="491.65000000000003" y1="574.2" x2="497.65000000000003" y2="574.2" stroke="#111" stroke-width="1.3"/>
<polyline points="478.8,535.3 493.8,535.3 493.8,567.3" fill="none" stroke="#111" stroke-width="1.5"/>
<text x="486.2" y="531.5" text-anchor="middle" font-size="11" font-weight="bold" fill="#111"  stroke="#111" stroke-width="0.15">*</text>
<text x="344" y="598.54" text-anchor="middle" font-size="9" font-weight="normal" fill="#111"  stroke="#111" stroke-width="0.3">0</text>
<text x="391" y="598.54" text-anchor="middle" font-size="9" font-weight="normal" fill="#111"  stroke="#111" stroke-width="0.3">25</text>
<text x="439.2" y="598.54" text-anchor="middle" font-size="9" font-weight="normal" fill="#111"  stroke="#111" stroke-width="0.3">50</text>
<text x="489.1" y="598.54" text-anchor="middle" font-size="9" font-weight="normal" fill="#111"  stroke="#111" stroke-width="0.3">100</text>
<text x="416" y="614.74" text-anchor="middle" font-size="9" font-weight="normal" fill="#111"  stroke="#111" stroke-width="0.3">nM</text>
<text x="391.4" y="475.3" text-anchor="middle" font-size="10.6" font-weight="normal" fill="#111" letter-spacing="-0.6" stroke="#111" stroke-width="0.3">OPM2</text>
<text transform="translate(278.4,540) rotate(-90)" text-anchor="middle" font-size="9.9" font-weight="normal" fill="#111"  stroke="#111" stroke-width="0.3">Adherent cells</text>
<text transform="translate(289.6,539.4) rotate(-90)" text-anchor="middle" font-size="9.9" font-weight="normal" fill="#111"  stroke="#111" stroke-width="0.3">(HUVECs)</text>
<line x1="104.2" y1="682.8" x2="104.2" y2="847.0" stroke="#737373" stroke-width="1.2"/>
<line x1="104.2" y1="846.5" x2="402.015" y2="846.5" stroke="#737373" stroke-width="1.2"/>
<line x1="101.0" y1="846.5" x2="104.2" y2="846.5" stroke="#737373" stroke-width="1.2"/>
<text x="99.6" y="850.8" text-anchor="end" font-size="12" font-weight="bold" fill="#111"  stroke="#111" stroke-width="0.15">0</text>
<line x1="101.0" y1="819.3" x2="104.2" y2="819.3" stroke="#737373" stroke-width="1.2"/>
<text x="99.6" y="823.5999999999999" text-anchor="end" font-size="12" font-weight="bold" fill="#111"  stroke="#111" stroke-width="0.15">20</text>
<line x1="101.0" y1="792.1" x2="104.2" y2="792.1" stroke="#737373" stroke-width="1.2"/>
<text x="99.6" y="796.4" text-anchor="end" font-size="12" font-weight="bold" fill="#111"  stroke="#111" stroke-width="0.15">40</text>
<line x1="101.0" y1="764.9" x2="104.2" y2="764.9" stroke="#737373" stroke-width="1.2"/>
<text x="99.6" y="769.1999999999999" text-anchor="end" font-size="12" font-weight="bold" fill="#111"  stroke="#111" stroke-width="0.15">60</text>
<line x1="101.0" y1="737.7" x2="104.2" y2="737.7" stroke="#737373" stroke-width="1.2"/>
<text x="99.6" y="742.0" text-anchor="end" font-size="12" font-weight="bold" fill="#111"  stroke="#111" stroke-width="0.15">80</text>
<line x1="101.0" y1="710.5" x2="104.2" y2="710.5" stroke="#737373" stroke-width="1.2"/>
<text x="99.6" y="714.8" text-anchor="end" font-size="12" font-weight="bold" fill="#111"  stroke="#111" stroke-width="0.15">100</text>
<line x1="101.0" y1="683.3" x2="104.2" y2="683.3" stroke="#737373" stroke-width="1.2"/>
<text x="99.6" y="687.5999999999999" text-anchor="end" font-size="12" font-weight="bold" fill="#111"  stroke="#111" stroke-width="0.15">120</text>
<line x1="104.2" y1="846.5" x2="104.2" y2="850.7" stroke="#737373" stroke-width="1.2"/>
<text x="106.2" y="868.6" text-anchor="middle" font-size="12" font-weight="bold" fill="#111"  stroke="#111" stroke-width="0.15">0</text>
<line x1="137.235" y1="846.5" x2="137.235" y2="850.7" stroke="#737373" stroke-width="1.2"/>
<text x="139.235" y="868.6" text-anchor="middle" font-size="12" font-weight="bold" fill="#111"  stroke="#111" stroke-width="0.15">5</text>
<line x1="170.27" y1="846.5" x2="170.27" y2="850.7" stroke="#737373" stroke-width="1.2"/>
<text x="172.27" y="868.6" text-anchor="middle" font-size="12" font-weight="bold" fill="#111"  stroke="#111" stroke-width="0.15">10</text>
<line x1="203.305" y1="846.5" x2="203.305" y2="850.7" stroke="#737373" stroke-width="1.2"/>
<text x="205.305" y="868.6" text-anchor="middle" font-size="12" font-weight="bold" fill="#111"  stroke="#111" stroke-width="0.15">15</text>
<line x1="236.34000000000003" y1="846.5" x2="236.34000000000003" y2="850.7" stroke="#737373" stroke-width="1.2"/>
<text x="238.34000000000003" y="868.6" text-anchor="middle" font-size="12" font-weight="bold" fill="#111"  stroke="#111" stroke-width="0.15">20</text>
<line x1="269.375" y1="846.5" x2="269.375" y2="850.7" stroke="#737373" stroke-width="1.2"/>
<text x="271.375" y="868.6" text-anchor="middle" font-size="12" font-weight="bold" fill="#111"  stroke="#111" stroke-width="0.15">25</text>
<line x1="302.41" y1="846.5" x2="302.41" y2="850.7" stroke="#737373" stroke-width="1.2"/>
<text x="304.41" y="868.6" text-anchor="middle" font-size="12" font-weight="bold" fill="#111"  stroke="#111" stroke-width="0.15">30</text>
<line x1="335.445" y1="846.5" x2="335.445" y2="850.7" stroke="#737373" stroke-width="1.2"/>
<text x="337.445" y="868.6" text-anchor="middle" font-size="12" font-weight="bold" fill="#111"  stroke="#111" stroke-width="0.15">35</text>
<line x1="368.48" y1="846.5" x2="368.48" y2="850.7" stroke="#737373" stroke-width="1.2"/>
<text x="370.48" y="868.6" text-anchor="middle" font-size="12" font-weight="bold" fill="#111"  stroke="#111" stroke-width="0.15">40</text>
<line x1="401.515" y1="846.5" x2="401.515" y2="850.7" stroke="#737373" stroke-width="1.2"/>
<text x="403.515" y="868.6" text-anchor="middle" font-size="12" font-weight="bold" fill="#111"  stroke="#111" stroke-width="0.15">45</text>
<text transform="translate(71.2,772.5) rotate(-90)" text-anchor="middle" font-size="12.3" font-weight="bold" fill="#111"  stroke="#111" stroke-width="0.15">% of Circulating cells</text>
<text x="255.7" y="890" text-anchor="middle" font-size="12.3" font-weight="bold" fill="#111"  stroke="#111" stroke-width="0.15">Time after Injection (min)</text>
<line x1="136.9" y1="696.8" x2="136.9" y2="723.9" stroke="#111" stroke-width="1.5"/>
<line x1="132.9" y1="696.8" x2="140.9" y2="696.8" stroke="#111" stroke-width="1.6"/>
<line x1="132.9" y1="723.9" x2="140.9" y2="723.9" stroke="#111" stroke-width="1.6"/>
<line x1="170.1" y1="718.3" x2="170.1" y2="749.0" stroke="#111" stroke-width="1.5"/>
<line x1="166.1" y1="718.3" x2="174.1" y2="718.3" stroke="#111" stroke-width="1.6"/>
<line x1="166.1" y1="749.0" x2="174.1" y2="749.0" stroke="#111" stroke-width="1.6"/>
<line x1="203.0" y1="721.7" x2="203.0" y2="742.4" stroke="#111" stroke-width="1.5"/>
<line x1="199.0" y1="721.7" x2="207.0" y2="721.7" stroke="#111" stroke-width="1.6"/>
<line x1="199.0" y1="742.4" x2="207.0" y2="742.4" stroke="#111" stroke-width="1.6"/>
<line x1="236.3" y1="744" x2="236.3" y2="760.5" stroke="#111" stroke-width="1.5"/>
<line x1="232.3" y1="744" x2="240.3" y2="744" stroke="#111" stroke-width="1.6"/>
<line x1="232.3" y1="760.5" x2="240.3" y2="760.5" stroke="#111" stroke-width="1.6"/>
<line x1="268.8" y1="756.1" x2="268.8" y2="773.5" stroke="#111" stroke-width="1.5"/>
<line x1="264.8" y1="756.1" x2="272.8" y2="756.1" stroke="#111" stroke-width="1.6"/>
<line x1="264.8" y1="773.5" x2="272.8" y2="773.5" stroke="#111" stroke-width="1.6"/>
<line x1="301.9" y1="747.7" x2="301.9" y2="774.5" stroke="#111" stroke-width="1.5"/>
<line x1="297.9" y1="747.7" x2="305.9" y2="747.7" stroke="#111" stroke-width="1.6"/>
<line x1="297.9" y1="774.5" x2="305.9" y2="774.5" stroke="#111" stroke-width="1.6"/>
<line x1="335.2" y1="756.9" x2="335.2" y2="780.6" stroke="#111" stroke-width="1.5"/>
<line x1="331.2" y1="756.9" x2="339.2" y2="756.9" stroke="#111" stroke-width="1.6"/>
<line x1="331.2" y1="780.6" x2="339.2" y2="780.6" stroke="#111" stroke-width="1.6"/>
<line x1="368.4" y1="771.5" x2="368.4" y2="794.4" stroke="#111" stroke-width="1.5"/>
<line x1="364.4" y1="771.5" x2="372.4" y2="771.5" stroke="#111" stroke-width="1.6"/>
<line x1="364.4" y1="794.4" x2="372.4" y2="794.4" stroke="#111" stroke-width="1.6"/>
<line x1="136.9" y1="701" x2="136.9" y2="719.9" stroke="#111" stroke-width="1.5"/>
<line x1="132.9" y1="701" x2="140.9" y2="701" stroke="#111" stroke-width="1.6"/>
<line x1="132.9" y1="719.9" x2="140.9" y2="719.9" stroke="#111" stroke-width="1.6"/>
<line x1="170.1" y1="761" x2="170.1" y2="771.3" stroke="#111" stroke-width="1.5"/>
<line x1="166.1" y1="761" x2="174.1" y2="761" stroke="#111" stroke-width="1.6"/>
<line x1="166.1" y1="771.3" x2="174.1" y2="771.3" stroke="#111" stroke-width="1.6"/>
<line x1="203.0" y1="760.6" x2="203.0" y2="790.4" stroke="#111" stroke-width="1.5"/>
<line x1="199.0" y1="760.6" x2="207.0" y2="760.6" stroke="#111" stroke-width="1.6"/>
<line x1="199.0" y1="790.4" x2="207.0" y2="790.4" stroke="#111" stroke-width="1.6"/>
<line x1="236.3" y1="769.2" x2="236.3" y2="795.5" stroke="#111" stroke-width="1.5"/>
<line x1="232.3" y1="769.2" x2="240.3" y2="769.2" stroke="#111" stroke-width="1.6"/>
<line x1="232.3" y1="795.5" x2="240.3" y2="795.5" stroke="#111" stroke-width="1.6"/>
<line x1="268.8" y1="784.6" x2="268.8" y2="808" stroke="#111" stroke-width="1.5"/>
<line x1="264.8" y1="784.6" x2="272.8" y2="784.6" stroke="#111" stroke-width="1.6"/>
<line x1="264.8" y1="808" x2="272.8" y2="808" stroke="#111" stroke-width="1.6"/>
<line x1="301.9" y1="794.8" x2="301.9" y2="811.7" stroke="#111" stroke-width="1.5"/>
<line x1="297.9" y1="794.8" x2="305.9" y2="794.8" stroke="#111" stroke-width="1.6"/>
<line x1="297.9" y1="811.7" x2="305.9" y2="811.7" stroke="#111" stroke-width="1.6"/>
<line x1="335.2" y1="807.5" x2="335.2" y2="816.9" stroke="#111" stroke-width="1.5"/>
<line x1="331.2" y1="807.5" x2="339.2" y2="807.5" stroke="#111" stroke-width="1.6"/>
<line x1="331.2" y1="816.9" x2="339.2" y2="816.9" stroke="#111" stroke-width="1.6"/>
<line x1="368.4" y1="814.8" x2="368.4" y2="829.2" stroke="#111" stroke-width="1.5"/>
<line x1="364.4" y1="814.8" x2="372.4" y2="814.8" stroke="#111" stroke-width="1.6"/>
<line x1="364.4" y1="829.2" x2="372.4" y2="829.2" stroke="#111" stroke-width="1.6"/>
<line x1="136.9" y1="705.5" x2="136.9" y2="715" stroke="#111" stroke-width="1.5"/>
<line x1="132.9" y1="705.5" x2="140.9" y2="705.5" stroke="#111" stroke-width="1.6"/>
<line x1="132.9" y1="715" x2="140.9" y2="715" stroke="#111" stroke-width="1.6"/>
<line x1="170.1" y1="749.5" x2="170.1" y2="779.1" stroke="#111" stroke-width="1.5"/>
<line x1="166.1" y1="749.5" x2="174.1" y2="749.5" stroke="#111" stroke-width="1.6"/>
<line x1="166.1" y1="779.1" x2="174.1" y2="779.1" stroke="#111" stroke-width="1.6"/>
<line x1="203.0" y1="781" x2="203.0" y2="796.4" stroke="#111" stroke-width="1.5"/>
<line x1="199.0" y1="781" x2="207.0" y2="781" stroke="#111" stroke-width="1.6"/>
<line x1="199.0" y1="796.4" x2="207.0" y2="796.4" stroke="#111" stroke-width="1.6"/>
<line x1="236.3" y1="797.5" x2="236.3" y2="805" stroke="#111" stroke-width="1.5"/>
<line x1="232.3" y1="797.5" x2="240.3" y2="797.5" stroke="#111" stroke-width="1.6"/>
<line x1="232.3" y1="805" x2="240.3" y2="805" stroke="#111" stroke-width="1.6"/>
<line x1="268.8" y1="812.3" x2="268.8" y2="817.8" stroke="#111" stroke-width="1.5"/>
<line x1="264.8" y1="812.3" x2="272.8" y2="812.3" stroke="#111" stroke-width="1.6"/>
<line x1="264.8" y1="817.8" x2="272.8" y2="817.8" stroke="#111" stroke-width="1.6"/>
<line x1="301.9" y1="820.6" x2="301.9" y2="825.5" stroke="#111" stroke-width="1.5"/>
<line x1="297.9" y1="820.6" x2="305.9" y2="820.6" stroke="#111" stroke-width="1.6"/>
<line x1="297.9" y1="825.5" x2="305.9" y2="825.5" stroke="#111" stroke-width="1.6"/>
<line x1="335.2" y1="822" x2="335.2" y2="826" stroke="#111" stroke-width="1.5"/>
<line x1="331.2" y1="822" x2="339.2" y2="822" stroke="#111" stroke-width="1.6"/>
<line x1="331.2" y1="826" x2="339.2" y2="826" stroke="#111" stroke-width="1.6"/>
<line x1="368.4" y1="823.5" x2="368.4" y2="829.2" stroke="#111" stroke-width="1.5"/>
<line x1="364.4" y1="823.5" x2="372.4" y2="823.5" stroke="#111" stroke-width="1.6"/>
<line x1="364.4" y1="829.2" x2="372.4" y2="829.2" stroke="#111" stroke-width="1.6"/>
<polyline points="136.9,710.3 170.1,764.8 203.0,787.0 236.3,801.2 268.8,814.8 301.9,823.1 335.2,824.0 368.4,826.2" fill="none" stroke="#000" stroke-width="1.75" stroke-linejoin="round"/>
<polyline points="136.9,710.3 170.1,764.8 203.0,780.2 236.3,784.0 268.8,796.9 301.9,803.0 335.2,812.0 368.4,822.3" fill="none" stroke="#000" stroke-width="1.75" stroke-linejoin="round"/>
<polyline points="136.9,710.3 170.1,733.3 203.0,731.8 236.3,752.5 268.8,765.0 301.9,760.9 335.2,769.0 368.4,782.9" fill="none" stroke="#000" stroke-width="1.75" stroke-linejoin="round"/>
<rect x="133.9" y="707.3" width="6" height="6" fill="#000"/>
<rect x="167.1" y="761.8" width="6" height="6" fill="#000"/>
<rect x="200.0" y="784.0" width="6" height="6" fill="#000"/>
<rect x="233.3" y="798.2" width="6" height="6" fill="#000"/>
<rect x="265.8" y="811.8" width="6" height="6" fill="#000"/>
<rect x="298.9" y="820.1" width="6" height="6" fill="#000"/>
<rect x="332.2" y="821.0" width="6" height="6" fill="#000"/>
<rect x="365.4" y="823.2" width="6" height="6" fill="#000"/>
<polygon points="136.9,704.3 141.5,714.3 132.3,714.3" fill="#000"/>
<polygon points="170.1,758.8 174.7,768.8 165.5,768.8" fill="#000"/>
<polygon points="203.0,774.2 207.6,784.2 198.4,784.2" fill="#000"/>
<polygon points="236.3,778.0 240.9,788.0 231.70000000000002,788.0" fill="#000"/>
<polygon points="268.8,790.9 273.40000000000003,800.9 264.2,800.9" fill="#000"/>
<polygon points="301.9,797.0 306.5,807.0 297.29999999999995,807.0" fill="#000"/>
<polygon points="335.2,806.0 339.8,816.0 330.59999999999997,816.0" fill="#000"/>
<polygon points="368.4,816.3 373.0,826.3 363.79999999999995,826.3" fill="#000"/>
<polygon points="136.9,704.55 141.9,710.3 136.9,716.05 131.9,710.3" fill="#000"/>
<polygon points="170.1,727.55 175.1,733.3 170.1,739.05 165.1,733.3" fill="#000"/>
<polygon points="203.0,726.05 208.0,731.8 203.0,737.55 198.0,731.8" fill="#000"/>
<polygon points="236.3,746.75 241.3,752.5 236.3,758.25 231.3,752.5" fill="#000"/>
<polygon points="268.8,759.25 273.8,765.0 268.8,770.75 263.8,765.0" fill="#000"/>
<polygon points="301.9,755.15 306.9,760.9 301.9,766.65 296.9,760.9" fill="#000"/>
<polygon points="335.2,763.25 340.2,769.0 335.2,774.75 330.2,769.0" fill="#000"/>
<polygon points="368.4,777.15 373.4,782.9 368.4,788.65 363.4,782.9" fill="#000"/>
<line x1="270.8" y1="671.9" x2="300" y2="671.9" stroke="#000" stroke-width="1.6"/>
<line x1="270.8" y1="693.2" x2="300" y2="693.2" stroke="#000" stroke-width="1.6"/>
<line x1="270.8" y1="712.9" x2="300" y2="712.9" stroke="#000" stroke-width="1.6"/>
<rect x="282.79999999999995" y="669.5" width="5.2" height="5.2" fill="#000"/>
<polygon points="285.4,688.0 289.9,698.0 280.9,698.0" fill="#000"/>
<polygon points="285.3,707.5 290.3,713.1 285.3,718.7 280.3,713.1" fill="#000"/>
<text x="302.0" y="676.4" text-anchor="start" font-size="12.3" font-weight="bold" fill="#111"  stroke="#111" stroke-width="0.15">Control</text>
<text x="299.8" y="697.9" text-anchor="start" font-size="12.3" font-weight="bold" fill="#111"  stroke="#111" stroke-width="0.15">Rapa (100nM)</text>
<text x="298.8" y="717.4" text-anchor="start" font-size="12.3" font-weight="bold" fill="#111"  stroke="#111" stroke-width="0.15">INK128 (100nM)</text>
</svg></body></html>
